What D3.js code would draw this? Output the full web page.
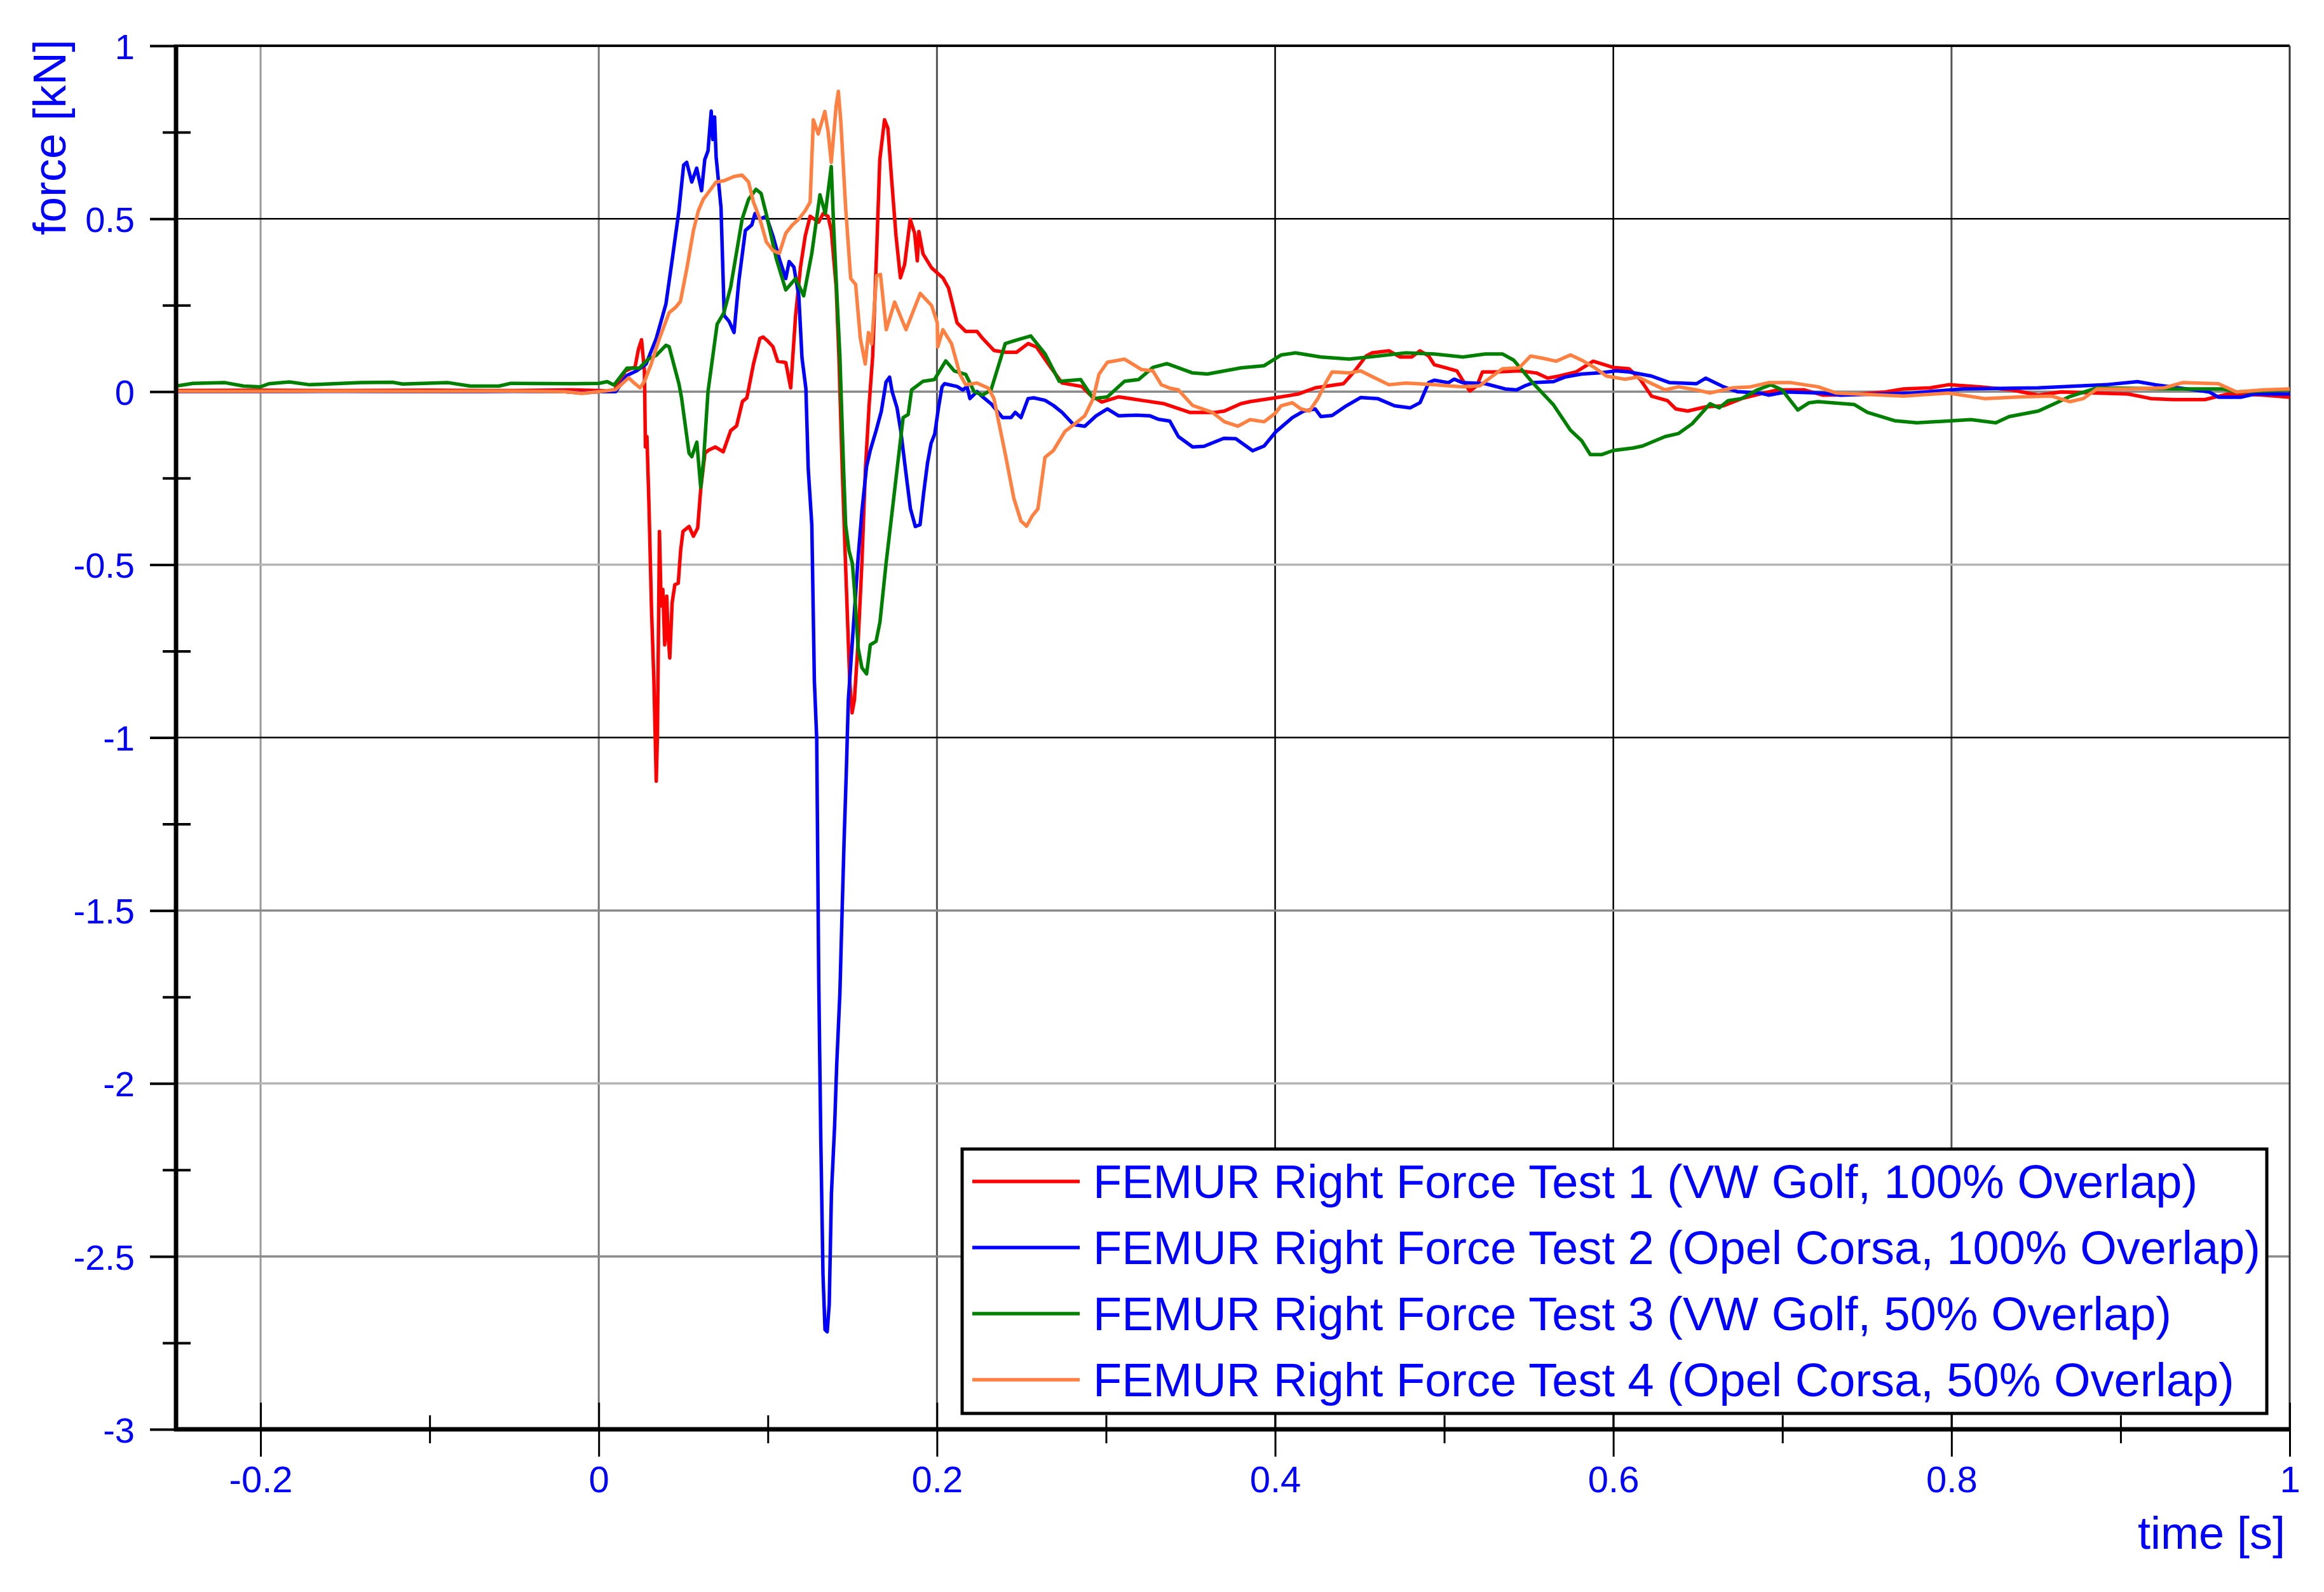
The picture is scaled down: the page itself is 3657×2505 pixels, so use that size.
<!DOCTYPE html>
<html>
<head>
<meta charset="utf-8">
<script src="https://cdn.jsdelivr.net/npm/d3@7"></script>
<style>
  body { margin: 0; background: #fff; }
  text { font-family: "Liberation Sans", Arial, sans-serif; }
</style>
</head>
<body>
<svg id="chart"></svg>
<script>
// ---- data (time [s], force [kN]) ----
const seriesNames = [
  "FEMUR Right Force Test 1 (VW Golf, 100% Overlap)",
  "FEMUR Right Force Test 2 (Opel Corsa, 100% Overlap)",
  "FEMUR Right Force Test 3 (VW Golf, 50% Overlap)",
  "FEMUR Right Force Test 4 (Opel Corsa, 50% Overlap)"
];

const test1 = [[-0.25,0.003],[-0.2,0.004],[-0.15,0.003],[-0.1,0.004],[-0.05,0.003],[-0.016,0.005],[0,0.003],[0.009,0.002],[0.0157,0.06],[0.0215,0.072],[0.0234,0.121],[0.0253,0.15],[0.027,0.06],[0.0276,-0.16],[0.0285,-0.13],[0.0297,-0.33],[0.0312,-0.63],[0.0326,-0.835],[0.034,-1.126],[0.0347,-0.995],[0.0359,-0.404],[0.0369,-0.619],[0.0379,-0.572],[0.039,-0.732],[0.0402,-0.591],[0.041,-0.704],[0.042,-0.77],[0.0434,-0.61],[0.045,-0.558],[0.047,-0.554],[0.0484,-0.46],[0.0498,-0.404],[0.0534,-0.39],[0.056,-0.418],[0.0585,-0.394],[0.0603,-0.282],[0.0628,-0.178],[0.065,-0.169],[0.069,-0.16],[0.0736,-0.174],[0.078,-0.113],[0.0815,-0.099],[0.085,-0.028],[0.0876,-0.018],[0.0915,0.08],[0.0953,0.154],[0.0972,0.158],[0.1,0.146],[0.103,0.13],[0.1058,0.088],[0.1106,0.084],[0.1135,0.011],[0.1164,0.22],[0.1193,0.36],[0.1221,0.45],[0.125,0.507],[0.13,0.49],[0.1327,0.515],[0.1356,0.507],[0.1375,0.466],[0.1404,0.302],[0.142,0.103],[0.144,-0.225],[0.146,-0.507],[0.1484,-0.835],[0.1498,-0.929],[0.1512,-0.891],[0.1534,-0.723],[0.1556,-0.497],[0.1577,-0.225],[0.1599,-0.038],[0.162,0.103],[0.1643,0.4],[0.1662,0.671],[0.169,0.786],[0.171,0.761],[0.1733,0.607],[0.1758,0.45],[0.1784,0.329],[0.1809,0.368],[0.1842,0.498],[0.1868,0.458],[0.1884,0.378],[0.1893,0.463],[0.1918,0.398],[0.1968,0.358],[0.2035,0.329],[0.2069,0.299],[0.2119,0.199],[0.217,0.174],[0.2237,0.174],[0.227,0.154],[0.2337,0.119],[0.2404,0.114],[0.2471,0.114],[0.2539,0.139],[0.2589,0.129],[0.2673,0.07],[0.274,0.025],[0.2857,0.015],[0.2908,-0.01],[0.2975,-0.03],[0.3075,-0.015],[0.3209,-0.025],[0.3344,-0.035],[0.3495,-0.06],[0.3646,-0.06],[0.37,-0.056],[0.3797,-0.035],[0.385,-0.029],[0.4,-0.018],[0.4136,-0.007],[0.4237,0.011],[0.4404,0.023],[0.4471,0.06],[0.4538,0.103],[0.4572,0.112],[0.4673,0.118],[0.474,0.1],[0.4807,0.1],[0.4857,0.118],[0.4908,0.103],[0.4941,0.078],[0.5008,0.069],[0.5075,0.06],[0.5109,0.033],[0.5151,0.002],[0.5193,0.017],[0.5226,0.057],[0.531,0.057],[0.5444,0.06],[0.5545,0.054],[0.5612,0.039],[0.5679,0.045],[0.578,0.057],[0.5881,0.088],[0.5948,0.078],[0.5998,0.07],[0.6093,0.066],[0.616,0.035],[0.6226,-0.013],[0.632,-0.026],[0.637,-0.05],[0.644,-0.056],[0.6546,-0.044],[0.6652,-0.041],[0.6759,-0.02],[0.6865,-0.007],[0.6972,0.005],[0.7131,0.005],[0.7237,-0.01],[0.7397,-0.009],[0.761,-0.001],[0.7716,0.008],[0.7876,0.011],[0.7982,0.02],[0.8168,0.014],[0.8355,0.005],[0.8514,-0.01],[0.8647,-0.001],[0.886,-0.004],[0.9046,-0.007],[0.9179,-0.02],[0.9312,-0.023],[0.9498,-0.023],[0.9632,-0.007],[0.9844,-0.01],[1,-0.016]];

const test2 = [[-0.25,0],[-0.2,0],[-0.15,0.001],[-0.1,0],[-0.05,0.001],[-0.02,0],[-0.01,-0.004],[0,0],[0.01,0],[0.0167,0.047],[0.0224,0.06],[0.028,0.08],[0.034,0.154],[0.0397,0.253],[0.0435,0.384],[0.0474,0.523],[0.0502,0.655],[0.052,0.663],[0.055,0.606],[0.0579,0.646],[0.0608,0.581],[0.0627,0.671],[0.0646,0.696],[0.0665,0.811],[0.0675,0.729],[0.0685,0.794],[0.0694,0.679],[0.0723,0.532],[0.0742,0.22],[0.0771,0.203],[0.08,0.171],[0.0828,0.318],[0.0867,0.466],[0.0905,0.482],[0.0924,0.515],[0.0953,0.499],[0.0991,0.507],[0.103,0.45],[0.1068,0.384],[0.1106,0.327],[0.1126,0.376],[0.1154,0.36],[0.1183,0.277],[0.1202,0.097],[0.1225,0.009],[0.1239,-0.225],[0.126,-0.385],[0.1275,-0.835],[0.1289,-1.004],[0.1301,-1.702],[0.1313,-2.158],[0.1326,-2.552],[0.1338,-2.712],[0.1351,-2.718],[0.1363,-2.638],[0.1376,-2.318],[0.1395,-2.121],[0.1407,-1.949],[0.1426,-1.739],[0.1439,-1.505],[0.1451,-1.296],[0.1464,-1.099],[0.1476,-0.89],[0.1505,-0.685],[0.1534,-0.479],[0.1556,-0.347],[0.1584,-0.216],[0.1606,-0.169],[0.164,-0.113],[0.1671,-0.057],[0.1699,0.028],[0.172,0.042],[0.1735,0],[0.1764,-0.047],[0.1786,-0.113],[0.1814,-0.225],[0.1843,-0.338],[0.1872,-0.39],[0.19,-0.385],[0.1922,-0.291],[0.1944,-0.207],[0.1965,-0.15],[0.1987,-0.122],[0.2009,-0.047],[0.203,0.014],[0.2045,0.023],[0.2119,0.015],[0.2153,0.005],[0.2178,0.015],[0.2195,-0.02],[0.2237,0],[0.227,-0.015],[0.232,-0.035],[0.2388,-0.075],[0.2438,-0.075],[0.2463,-0.06],[0.2497,-0.075],[0.2539,-0.02],[0.2572,-0.018],[0.2639,-0.025],[0.2689,-0.04],[0.274,-0.06],[0.2807,-0.095],[0.2874,-0.1],[0.2941,-0.07],[0.3008,-0.05],[0.3075,-0.07],[0.3176,-0.068],[0.326,-0.07],[0.331,-0.08],[0.3377,-0.085],[0.3428,-0.13],[0.3512,-0.16],[0.3579,-0.158],[0.3696,-0.135],[0.3767,-0.136],[0.3867,-0.171],[0.3935,-0.157],[0.4002,-0.117],[0.4102,-0.075],[0.417,-0.056],[0.4237,-0.05],[0.427,-0.072],[0.4337,-0.069],[0.4421,-0.041],[0.4505,-0.017],[0.4606,-0.02],[0.4706,-0.041],[0.4798,-0.047],[0.4857,-0.032],[0.4908,0.026],[0.4941,0.033],[0.5025,0.026],[0.5059,0.036],[0.5109,0.026],[0.5243,0.023],[0.536,0.008],[0.5428,0.005],[0.5478,0.017],[0.5528,0.026],[0.5646,0.029],[0.5713,0.042],[0.5813,0.051],[0.5914,0.054],[0.6015,0.06],[0.6093,0.057],[0.6226,0.045],[0.6333,0.026],[0.6492,0.023],[0.6546,0.039],[0.6652,0.014],[0.6732,0],[0.6865,-0.004],[0.6918,-0.01],[0.7025,-0.001],[0.7237,-0.004],[0.7344,-0.01],[0.7769,-0.004],[0.8062,0.008],[0.8514,0.011],[0.8913,0.02],[0.91,0.029],[0.9206,0.02],[0.9525,-0.001],[0.9578,-0.016],[0.9711,-0.016],[0.9791,-0.007],[1,-0.007]];

const test3 = [[-0.25,0.016],[-0.24,0.024],[-0.221,0.026],[-0.21,0.016],[-0.2,0.014],[-0.195,0.023],[-0.183,0.028],[-0.171,0.02],[-0.141,0.026],[-0.122,0.027],[-0.116,0.022],[-0.089,0.026],[-0.076,0.016],[-0.059,0.016],[-0.052,0.024],[-0.015,0.023],[0,0.024],[0.005,0.029],[0.009,0.019],[0.0167,0.068],[0.024,0.068],[0.029,0.093],[0.034,0.105],[0.0397,0.134],[0.0416,0.13],[0.0474,0.023],[0.049,-0.019],[0.0534,-0.178],[0.055,-0.188],[0.058,-0.146],[0.0603,-0.277],[0.062,-0.197],[0.0646,0],[0.07,0.195],[0.074,0.228],[0.078,0.302],[0.0848,0.499],[0.0886,0.556],[0.093,0.585],[0.096,0.573],[0.099,0.515],[0.105,0.384],[0.1106,0.294],[0.1164,0.327],[0.1212,0.277],[0.126,0.4],[0.1308,0.569],[0.134,0.515],[0.1375,0.651],[0.139,0.466],[0.1426,0.103],[0.1448,-0.225],[0.146,-0.385],[0.148,-0.46],[0.15,-0.497],[0.1512,-0.572],[0.1534,-0.741],[0.1556,-0.798],[0.1584,-0.816],[0.1606,-0.732],[0.164,-0.722],[0.1663,-0.666],[0.1699,-0.497],[0.1735,-0.347],[0.1764,-0.225],[0.18,-0.075],[0.183,-0.066],[0.185,0.005],[0.1918,0.03],[0.1985,0.035],[0.2052,0.089],[0.2102,0.06],[0.217,0.05],[0.222,0],[0.227,-0.01],[0.232,0.005],[0.2404,0.139],[0.247,0.149],[0.2555,0.161],[0.264,0.109],[0.2723,0.03],[0.285,0.035],[0.2924,-0.02],[0.3008,-0.015],[0.3109,0.03],[0.3193,0.035],[0.3277,0.07],[0.336,0.081],[0.3512,0.054],[0.36,0.051],[0.38,0.069],[0.3935,0.075],[0.4035,0.106],[0.412,0.112],[0.427,0.1],[0.4438,0.094],[0.4606,0.103],[0.4773,0.112],[0.4941,0.109],[0.511,0.1],[0.5243,0.109],[0.5344,0.109],[0.5411,0.091],[0.5528,0.023],[0.5646,-0.038],[0.5746,-0.111],[0.5813,-0.142],[0.5864,-0.182],[0.5931,-0.182],[0.6,-0.17],[0.6115,-0.163],[0.6173,-0.157],[0.6306,-0.13],[0.6386,-0.121],[0.6466,-0.093],[0.6572,-0.035],[0.6626,-0.047],[0.6679,-0.026],[0.6759,-0.02],[0.6852,0.005],[0.6931,0.02],[0.6998,0.005],[0.7091,-0.053],[0.7158,-0.032],[0.7211,-0.029],[0.7424,-0.037],[0.7503,-0.06],[0.7663,-0.084],[0.7796,-0.09],[0.8115,-0.081],[0.8262,-0.09],[0.8341,-0.072],[0.8514,-0.056],[0.8621,-0.032],[0.8701,-0.014],[0.886,0.011],[0.9312,0.008],[0.9605,0.008],[0.9685,-0.001],[1,0.005]];

const test4 = [[-0.25,0.001],[-0.2,0.001],[-0.15,0.002],[-0.1,0.001],[-0.05,0.002],[-0.02,0],[-0.01,-0.005],[0,0],[0.01,0.006],[0.0177,0.04],[0.0205,0.027],[0.0244,0.011],[0.0272,0.031],[0.031,0.08],[0.0359,0.154],[0.0416,0.228],[0.0455,0.244],[0.0483,0.261],[0.0522,0.359],[0.056,0.466],[0.0589,0.523],[0.0618,0.556],[0.0656,0.581],[0.0694,0.606],[0.0742,0.61],[0.08,0.622],[0.0848,0.626],[0.0886,0.606],[0.0915,0.548],[0.0953,0.499],[0.0991,0.433],[0.103,0.408],[0.1068,0.4],[0.1106,0.458],[0.1145,0.482],[0.1183,0.499],[0.1221,0.523],[0.125,0.548],[0.1269,0.786],[0.1298,0.745],[0.1337,0.81],[0.1356,0.753],[0.1375,0.663],[0.1404,0.827],[0.1417,0.868],[0.1432,0.778],[0.146,0.532],[0.149,0.327],[0.1519,0.31],[0.1547,0.154],[0.1576,0.08],[0.1595,0.171],[0.1614,0.138],[0.1643,0.335],[0.1666,0.339],[0.17,0.179],[0.175,0.259],[0.1817,0.179],[0.1901,0.284],[0.1968,0.249],[0.2002,0.199],[0.2005,0.129],[0.2035,0.179],[0.2086,0.139],[0.2136,0.05],[0.217,0.02],[0.2237,0.025],[0.2304,0.01],[0.2337,-0.02],[0.2404,-0.18],[0.2455,-0.309],[0.2497,-0.374],[0.253,-0.389],[0.2564,-0.359],[0.2597,-0.339],[0.2639,-0.19],[0.2689,-0.17],[0.2757,-0.115],[0.2824,-0.09],[0.2874,-0.07],[0.2924,-0.02],[0.2958,0.05],[0.3008,0.085],[0.3109,0.094],[0.3209,0.064],[0.3277,0.06],[0.3327,0.02],[0.3377,0.01],[0.3428,0.005],[0.3512,-0.04],[0.3629,-0.06],[0.37,-0.087],[0.378,-0.1],[0.3851,-0.081],[0.3935,-0.087],[0.4002,-0.062],[0.4035,-0.041],[0.4102,-0.032],[0.4153,-0.05],[0.4203,-0.056],[0.4253,-0.02],[0.4303,0.029],[0.4337,0.057],[0.4438,0.054],[0.4505,0.06],[0.4606,0.036],[0.4673,0.02],[0.4773,0.025],[0.4941,0.02],[0.5109,0.014],[0.521,0.017],[0.5277,0.042],[0.5344,0.066],[0.5444,0.069],[0.5511,0.103],[0.5579,0.097],[0.5663,0.088],[0.5747,0.106],[0.5813,0.091],[0.5881,0.072],[0.596,0.045],[0.6067,0.036],[0.6147,0.042],[0.6306,0.005],[0.6386,0.014],[0.6492,0.005],[0.6572,-0.004],[0.6705,0.011],[0.6812,0.014],[0.6918,0.026],[0.7051,0.026],[0.7211,0.014],[0.7317,-0.004],[0.745,-0.007],[0.7716,-0.013],[0.7982,-0.004],[0.8195,-0.02],[0.8408,-0.015],[0.8594,-0.013],[0.8701,-0.029],[0.878,-0.02],[0.886,0.008],[0.9046,0.008],[0.9259,0.011],[0.9366,0.026],[0.9578,0.023],[0.9685,-0.001],[0.9844,0.005],[1,0.008]];

const xMajorTicks = [-0.2, 0, 0.2, 0.4, 0.6, 0.8, 1];
const xMinorTicks = [-0.1, 0.1, 0.3, 0.5, 0.7, 0.9];
const yMajorTicks = [1, 0.5, 0, -0.5, -1, -1.5, -2, -2.5, -3];
const yMinorTicks = [0.75, 0.25, -0.25, -0.75, -1.25, -1.75, -2.25, -2.75];

// ---- layout ----
const width = 3657, height = 2505;
const plot = { left: 277, right: 3603, top: 72, bottom: 2249 };
const seriesColors = ["#ff0000", "#0000ff", "#008000", "#ff8040"];
const labelBlue = "#0000ff";
const curveWidth = 5.5;

const svg = d3.select("#chart")
  .attr("width", width)
  .attr("height", height)
  .style("background", "#fff");

const x = d3.scaleLinear().domain([-0.25, 1]).range([plot.left, plot.right]);
const y = d3.scaleLinear().domain([-3, 1]).range([plot.bottom, plot.top]);

// grid lines (the original has a mix of black and grey rules)
function vGridColor(v) {
  if (v === 0.4 || v === 0.6) return "#000";
  if (v === -0.2) return "#999";
  if (v === 0) return "#777";
  return "#555";
}
function hGridColor(v) {
  if (v === 0.5 || v === -1) return "#000";
  if (v === -0.5 || v === -2) return "#b4b4b4";
  return "#8a8a8a";
}

svg.append("g")
  .attr("class", "grid-x")
  .selectAll("line")
  .data(xMajorTicks.filter(v => v < 1))
  .join("line")
  .attr("x1", d => x(d))
  .attr("x2", d => x(d))
  .attr("y1", y(1))
  .attr("y2", y(-3))
  .attr("stroke", d => vGridColor(d))
  .attr("stroke-width", d => vGridColor(d) === "#000" ? 2.5 : 3);

svg.append("g")
  .attr("class", "grid-y")
  .selectAll("line")
  .data(yMajorTicks.filter(v => v < 1 && v > -3))
  .join("line")
  .attr("x1", x(-0.25))
  .attr("x2", x(1))
  .attr("y1", d => y(d))
  .attr("y2", d => y(d))
  .attr("stroke", d => hGridColor(d))
  .attr("stroke-width", d => hGridColor(d) === "#000" ? 2.5 : 3.5);

// frame: top and right
svg.append("line")
  .attr("x1", plot.left).attr("x2", plot.right)
  .attr("y1", plot.top).attr("y2", plot.top)
  .attr("stroke", "#000").attr("stroke-width", 4);
svg.append("line")
  .attr("x1", plot.right).attr("x2", plot.right)
  .attr("y1", plot.top).attr("y2", plot.bottom)
  .attr("stroke", "#333").attr("stroke-width", 3);

// ---- series ----
const line = d3.line()
  .x(d => x(d[0]))
  .y(d => y(d[1]));

const allSeries = [test1, test2, test3, test4];

svg.append("g")
  .attr("class", "series")
  .selectAll("path")
  .data(allSeries)
  .join("path")
  .attr("d", d => line(d))
  .attr("fill", "none")
  .attr("stroke", (d, i) => seriesColors[i])
  .attr("stroke-width", curveWidth)
  .attr("stroke-linejoin", "round");

// ---- axes ----
const fmt = d => String(d);

const gx = svg.append("g")
  .attr("transform", `translate(0,${plot.bottom})`)
  .call(d3.axisBottom(x).tickValues(xMajorTicks).tickSize(43).tickFormat(fmt));
gx.select(".domain").remove();
gx.selectAll(".tick line").attr("y1", -42).attr("stroke", "#000").attr("stroke-width", 3);
gx.selectAll(".tick text")
  .attr("y", 99).attr("dy", null)
  .attr("fill", labelBlue)
  .attr("font-size", 58);

const gxMinor = svg.append("g")
  .attr("transform", `translate(0,${plot.bottom})`)
  .call(d3.axisBottom(x).tickValues(xMinorTicks).tickSize(22).tickFormat(""));
gxMinor.select(".domain").remove();
gxMinor.selectAll(".tick line").attr("y1", -22).attr("stroke", "#000").attr("stroke-width", 3);

const gy = svg.append("g")
  .attr("transform", `translate(${plot.left},0)`)
  .call(d3.axisLeft(y).tickValues(yMajorTicks).tickSize(41).tickFormat(fmt));
gy.select(".domain").remove();
gy.selectAll(".tick line").attr("stroke", "#000").attr("stroke-width", 4);
gy.selectAll(".tick text")
  .attr("x", -65).attr("dy", "0.36em")
  .attr("fill", labelBlue)
  .attr("font-size", 56);

const gyMinor = svg.append("g")
  .attr("transform", `translate(${plot.left},0)`)
  .call(d3.axisLeft(y).tickValues(yMinorTicks).tickSize(21).tickFormat(""));
gyMinor.select(".domain").remove();
gyMinor.selectAll(".tick line").attr("x2", 23).attr("x1", -21).attr("stroke", "#000").attr("stroke-width", 4);

// heavy axis lines
svg.append("line")
  .attr("x1", plot.left).attr("x2", plot.left)
  .attr("y1", plot.top - 2).attr("y2", plot.bottom + 3)
  .attr("stroke", "#000").attr("stroke-width", 7);
svg.append("line")
  .attr("x1", plot.left - 3).attr("x2", plot.right)
  .attr("y1", plot.bottom).attr("y2", plot.bottom)
  .attr("stroke", "#000").attr("stroke-width", 7);

// axis titles
svg.append("text")
  .attr("transform", `translate(103,216) rotate(-90)`)
  .attr("text-anchor", "middle")
  .attr("fill", labelBlue)
  .attr("font-size", 72)
  .text("force [kN]");

svg.append("text")
  .attr("x", 3596)
  .attr("y", 2437)
  .attr("text-anchor", "end")
  .attr("fill", labelBlue)
  .attr("font-size", 72)
  .text("time [s]");

// ---- legend ----
const legend = svg.append("g")
  .attr("class", "legend")
  .attr("transform", "translate(1514,1808)");

legend.append("rect")
  .attr("width", 2053)
  .attr("height", 416)
  .attr("fill", "#fff")
  .attr("stroke", "#000")
  .attr("stroke-width", 5);

const rows = legend.selectAll("g.row")
  .data(seriesNames)
  .join("g")
  .attr("class", "row")
  .attr("transform", (d, i) => `translate(0,${51 + i * 104})`);

rows.append("line")
  .attr("x1", 16).attr("x2", 185)
  .attr("stroke", (d, i) => seriesColors[i])
  .attr("stroke-width", curveWidth);

rows.append("text")
  .attr("x", 206)
  .attr("y", 26)
  .attr("fill", labelBlue)
  .attr("font-size", 74)
  .text(d => d);
</script>
</body>
</html>
